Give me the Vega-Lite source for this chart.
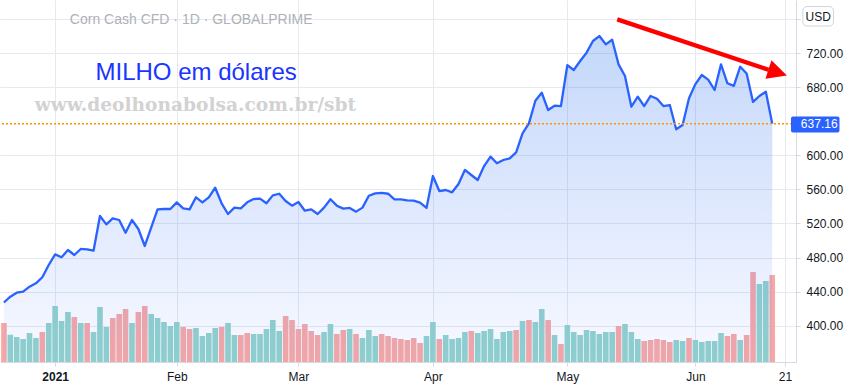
{
  "$schema": "https://vega.github.io/schema/vega-lite/v6.json",
  "width": 796,
  "height": 362,
  "autosize": "none",
  "padding": {"left": 0, "top": 0, "right": 54, "bottom": 29},
  "background": "#ffffff",
  "config": {"view": {"stroke": null}, "font": "Liberation Sans"},
  "datasets": {
    "prices": [
      {"i":0,"close":427.3,"volume":39000,"dir":"down"},
      {"i":1,"close":434.1,"volume":27300,"dir":"up"},
      {"i":2,"close":438.8,"volume":25000,"dir":"up"},
      {"i":3,"close":440.0,"volume":23000,"dir":"up"},
      {"i":4,"close":445.9,"volume":29000,"dir":"up"},
      {"i":5,"close":449.8,"volume":24000,"dir":"up"},
      {"i":6,"close":456.9,"volume":30000,"dir":"down"},
      {"i":7,"close":471.3,"volume":39000,"dir":"up"},
      {"i":8,"close":483.8,"volume":56000,"dir":"up"},
      {"i":9,"close":480.3,"volume":41000,"dir":"up"},
      {"i":10,"close":488.9,"volume":50000,"dir":"up"},
      {"i":11,"close":483.0,"volume":45000,"dir":"down"},
      {"i":12,"close":490.1,"volume":39000,"dir":"up"},
      {"i":13,"close":489.7,"volume":39000,"dir":"down"},
      {"i":14,"close":488.1,"volume":30000,"dir":"up"},
      {"i":15,"close":528.8,"volume":55000,"dir":"up"},
      {"i":16,"close":519.0,"volume":35000,"dir":"up"},
      {"i":17,"close":526.1,"volume":44000,"dir":"down"},
      {"i":18,"close":524.1,"volume":48000,"dir":"down"},
      {"i":19,"close":509.2,"volume":53000,"dir":"down"},
      {"i":20,"close":524.1,"volume":39000,"dir":"up"},
      {"i":21,"close":513.5,"volume":50000,"dir":"down"},
      {"i":22,"close":493.6,"volume":56000,"dir":"down"},
      {"i":23,"close":515.1,"volume":48000,"dir":"up"},
      {"i":24,"close":536.6,"volume":44000,"dir":"up"},
      {"i":25,"close":537.0,"volume":40000,"dir":"up"},
      {"i":26,"close":537.0,"volume":36000,"dir":"up"},
      {"i":27,"close":544.8,"volume":40000,"dir":"up"},
      {"i":28,"close":537.8,"volume":35000,"dir":"down"},
      {"i":29,"close":536.6,"volume":33000,"dir":"down"},
      {"i":30,"close":550.7,"volume":34000,"dir":"up"},
      {"i":31,"close":544.8,"volume":26000,"dir":"up"},
      {"i":32,"close":550.7,"volume":29000,"dir":"up"},
      {"i":33,"close":562.0,"volume":34000,"dir":"up"},
      {"i":34,"close":543.7,"volume":35000,"dir":"down"},
      {"i":35,"close":531.1,"volume":39000,"dir":"up"},
      {"i":36,"close":538.6,"volume":27000,"dir":"up"},
      {"i":37,"close":537.8,"volume":27000,"dir":"down"},
      {"i":38,"close":544.8,"volume":29000,"dir":"down"},
      {"i":39,"close":548.7,"volume":28000,"dir":"up"},
      {"i":40,"close":549.1,"volume":28000,"dir":"up"},
      {"i":41,"close":543.7,"volume":33000,"dir":"up"},
      {"i":42,"close":553.0,"volume":42000,"dir":"up"},
      {"i":43,"close":554.9,"volume":31000,"dir":"up"},
      {"i":44,"close":546.4,"volume":46000,"dir":"down"},
      {"i":45,"close":540.9,"volume":42000,"dir":"down"},
      {"i":46,"close":545.2,"volume":33000,"dir":"down"},
      {"i":47,"close":535.0,"volume":38000,"dir":"down"},
      {"i":48,"close":536.6,"volume":31000,"dir":"down"},
      {"i":49,"close":531.1,"volume":27000,"dir":"down"},
      {"i":50,"close":538.6,"volume":30000,"dir":"up"},
      {"i":51,"close":548.4,"volume":38000,"dir":"up"},
      {"i":52,"close":540.9,"volume":28000,"dir":"down"},
      {"i":53,"close":537.4,"volume":32000,"dir":"down"},
      {"i":54,"close":538.2,"volume":33000,"dir":"up"},
      {"i":55,"close":533.9,"volume":28000,"dir":"down"},
      {"i":56,"close":538.6,"volume":24000,"dir":"up"},
      {"i":57,"close":552.6,"volume":32000,"dir":"up"},
      {"i":58,"close":555.4,"volume":26000,"dir":"up"},
      {"i":59,"close":555.8,"volume":28000,"dir":"down"},
      {"i":60,"close":554.9,"volume":26000,"dir":"down"},
      {"i":61,"close":548.4,"volume":24000,"dir":"down"},
      {"i":62,"close":548.4,"volume":23000,"dir":"down"},
      {"i":63,"close":547.2,"volume":22000,"dir":"down"},
      {"i":64,"close":546.8,"volume":24000,"dir":"down"},
      {"i":65,"close":544.4,"volume":19000,"dir":"down"},
      {"i":66,"close":538.2,"volume":26000,"dir":"up"},
      {"i":67,"close":575.7,"volume":40000,"dir":"up"},
      {"i":68,"close":558.1,"volume":23000,"dir":"down"},
      {"i":69,"close":559.3,"volume":27000,"dir":"up"},
      {"i":70,"close":556.6,"volume":23000,"dir":"up"},
      {"i":71,"close":566.3,"volume":24000,"dir":"up"},
      {"i":72,"close":582.8,"volume":30000,"dir":"up"},
      {"i":73,"close":576.9,"volume":31000,"dir":"down"},
      {"i":74,"close":571.0,"volume":29000,"dir":"up"},
      {"i":75,"close":587.4,"volume":31000,"dir":"up"},
      {"i":76,"close":598.4,"volume":33000,"dir":"up"},
      {"i":77,"close":590.6,"volume":23000,"dir":"up"},
      {"i":78,"close":594.5,"volume":30000,"dir":"up"},
      {"i":79,"close":596.5,"volume":31000,"dir":"up"},
      {"i":80,"close":603.5,"volume":32000,"dir":"down"},
      {"i":81,"close":625.8,"volume":41000,"dir":"up"},
      {"i":82,"close":637.5,"volume":42000,"dir":"down"},
      {"i":83,"close":664.0,"volume":40000,"dir":"up"},
      {"i":84,"close":673.4,"volume":53000,"dir":"up"},
      {"i":85,"close":653.1,"volume":42000,"dir":"down"},
      {"i":86,"close":658.2,"volume":27000,"dir":"up"},
      {"i":87,"close":657.8,"volume":18000,"dir":"down"},
      {"i":88,"close":705.9,"volume":37000,"dir":"up"},
      {"i":89,"close":700.1,"volume":30000,"dir":"up"},
      {"i":90,"close":710.6,"volume":27000,"dir":"up"},
      {"i":91,"close":720.4,"volume":32000,"dir":"up"},
      {"i":92,"close":734.1,"volume":31000,"dir":"up"},
      {"i":93,"close":739.9,"volume":28000,"dir":"up"},
      {"i":94,"close":730.2,"volume":30000,"dir":"up"},
      {"i":95,"close":735.6,"volume":30000,"dir":"up"},
      {"i":96,"close":706.7,"volume":36000,"dir":"down"},
      {"i":97,"close":693.0,"volume":38000,"dir":"up"},
      {"i":98,"close":657.0,"volume":30000,"dir":"up"},
      {"i":99,"close":668.7,"volume":23000,"dir":"up"},
      {"i":100,"close":657.8,"volume":21000,"dir":"down"},
      {"i":101,"close":669.6,"volume":22000,"dir":"down"},
      {"i":102,"close":666.4,"volume":23000,"dir":"down"},
      {"i":103,"close":657.8,"volume":22000,"dir":"down"},
      {"i":104,"close":659.0,"volume":20000,"dir":"down"},
      {"i":105,"close":630.5,"volume":22000,"dir":"up"},
      {"i":106,"close":635.5,"volume":21000,"dir":"up"},
      {"i":107,"close":666.9,"volume":24000,"dir":"down"},
      {"i":108,"close":683.5,"volume":22000,"dir":"up"},
      {"i":109,"close":694.2,"volume":20000,"dir":"up"},
      {"i":110,"close":688.7,"volume":21000,"dir":"up"},
      {"i":111,"close":676.6,"volume":21000,"dir":"up"},
      {"i":112,"close":706.7,"volume":29000,"dir":"up"},
      {"i":113,"close":684.5,"volume":26000,"dir":"down"},
      {"i":114,"close":681.5,"volume":28000,"dir":"down"},
      {"i":115,"close":703.9,"volume":22000,"dir":"up"},
      {"i":116,"close":696.0,"volume":27000,"dir":"down"},
      {"i":117,"close":662.6,"volume":90000,"dir":"down"},
      {"i":118,"close":669.6,"volume":78000,"dir":"up"},
      {"i":119,"close":674.6,"volume":81000,"dir":"up"},
      {"i":120,"close":637.16,"volume":87000,"dir":"down"}
    ]
  },
  "data": {"name": "prices"},
  "layer": [
    {
      "mark": {"type": "bar", "width": 5.6, "clip": true},
      "encoding": {
        "x": {"field": "i", "type": "quantitative", "scale": {"domain": [0.17, 122.93], "nice": false, "zero": false},
          "axis": {"values": [8, 27, 46, 67, 88, 108, 122], "title": null,
            "labelExpr": "['2021','Feb','Mar','Apr','May','Jun','21'][indexof([8,27,46,67,88,108,122], datum.value)]",
            "grid": true, "gridColor": "#e6e9ef", "domainColor": "#d6d9e0", "tickColor": "#d6d9e0", "tickSize": 4,
            "labelColor": "#131722", "labelFontSize": 12, "labelPadding": 5, "labelFont": "Liberation Sans",
            "labelFontWeight": {"condition": {"test": "datum.value == 8", "value": "bold"}, "value": "normal"},
            "labelFlush": false, "labelOverlap": false}},
        "y": {"field": "volume", "type": "quantitative", "scale": {"domain": [0, 362000], "nice": false}, "axis": null},
        "color": {"field": "dir", "type": "nominal", "scale": {"domain": ["up", "down"], "range": ["#92d2cc", "#f6a8a6"]}, "legend": null}
      }
    },
    {
      "layer": [
        {
          "mark": {
            "type": "area", "clip": true,
            "color": {"gradient": "linear", "x1": 0, "y1": 0, "x2": 0, "y2": 1,
              "stops": [{"offset": 0, "color": "rgba(50,120,235,0.29)"}, {"offset": 1, "color": "rgba(60,110,255,0.04)"}]}
          },
          "encoding": {
            "x": {"field": "i", "type": "quantitative"},
            "y": {"field": "close", "type": "quantitative", "scale": {"domain": [357.5, 782.2], "nice": false, "zero": false},
              "axis": {"orient": "right", "values": [400, 440, 480, 520, 560, 600, 680, 720, 760], "title": null,
                "labelExpr": "datum.value == 760 ? '' : format(datum.value, '.2f')",
                "grid": true, "gridColor": "#e6e9ef", "domainColor": "#d6d9e0", "tickColor": "#d6d9e0", "tickSize": 4,
                "labelPadding": 6, "labelColor": "#131722", "labelFontSize": 12, "labelFont": "Liberation Sans"}},
            "y2": {"datum": 357.5}
          }
        },
        {
          "mark": {"type": "line", "color": "#2962ff", "strokeWidth": 2.3, "clip": true, "strokeJoin": "round"},
          "encoding": {
            "x": {"field": "i", "type": "quantitative"},
            "y": {"field": "close", "type": "quantitative"}
          }
        },
        {
          "data": {"values": [{}]},
          "mark": {"type": "rule", "color": "#ff9500", "strokeDash": [2, 2], "strokeWidth": 1.5},
          "encoding": {"y": {"datum": 637.16}}
        },
        {
          "data": {"values": [{}]},
          "mark": {"type": "text", "font": "Liberation Sans", "fontSize": 14, "color": "#aeb1b8", "align": "left", "baseline": "alphabetic", "text": "Corn Cash CFD · 1D · GLOBALPRIME"},
          "encoding": {"x": {"datum": 10.3}, "y": {"datum": 754.0}}
        },
        {
          "data": {"values": [{}]},
          "mark": {"type": "text", "font": "Liberation Sans", "fontSize": 24, "color": "#1a35ff", "align": "left", "baseline": "alphabetic", "text": "MILHO em dólares"},
          "encoding": {"x": {"datum": 14.3}, "y": {"datum": 688.9}}
        },
        {
          "data": {"values": [{}]},
          "mark": {"type": "text", "font": "DejaVu Serif", "fontWeight": "bold", "fontSize": 18.6, "color": "#d2d2d2", "align": "left", "baseline": "alphabetic", "text": "www.deolhonabolsa.com.br/sbt"},
          "encoding": {"x": {"datum": 4.8}, "y": {"datum": 652.0}}
        },
        {
          "data": {"values": [{}]},
          "mark": {"type": "rule", "color": "#ff0000", "strokeWidth": 4.3, "strokeCap": "butt"},
          "encoding": {"x": {"datum": 95.79}, "x2": {"datum": 119.43}, "y": {"datum": 759.5}, "y2": {"datum": 700.3}}
        },
        {
          "data": {"values": [{}]},
          "mark": {"type": "point", "shape": "M1,0L-1,-1L-1,1Z", "filled": true, "size": 376, "angle": 17.9, "color": "#ff0000", "opacity": 1},
          "encoding": {"x": {"datum": 120.85}, "y": {"datum": 697.2}}
        },
        {
          "data": {"values": [{}]},
          "mark": {"type": "rect", "color": "#2962ff", "cornerRadius": 2},
          "encoding": {"x": {"datum": 122.93}, "x2": {"datum": 130.5}, "y": {"datum": 645.5}, "y2": {"datum": 626.7}}
        },
        {
          "data": {"values": [{}]},
          "mark": {"type": "text", "font": "Liberation Sans", "fontSize": 12, "color": "#ffffff", "align": "left", "baseline": "middle", "text": "637.16"},
          "encoding": {"x": {"datum": 124.47}, "y": {"datum": 637.16}}
        },
        {
          "data": {"values": [{}]},
          "mark": {"type": "rect", "fill": "#ffffff", "stroke": "#d1d4dc", "strokeWidth": 1, "cornerRadius": 4},
          "encoding": {"x": {"datum": 124.78}, "x2": {"datum": 129.56}, "y": {"datum": 774.5}, "y2": {"datum": 751.7}}
        },
        {
          "data": {"values": [{}]},
          "mark": {"type": "text", "font": "Liberation Sans", "fontSize": 12, "color": "#131722", "align": "center", "baseline": "middle", "text": "USD"},
          "encoding": {"x": {"datum": 127.17}, "y": {"datum": 762.8}}
        }
      ]
    }
  ],
  "resolve": {"scale": {"y": "independent"}}
}
